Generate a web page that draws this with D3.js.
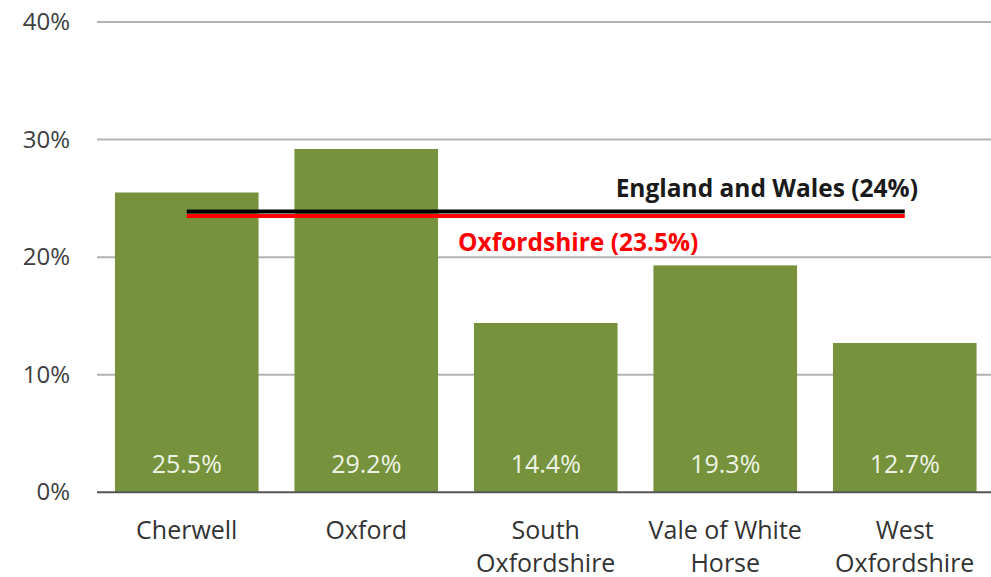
<!DOCTYPE html>
<html>
<head>
<meta charset="utf-8">
<script src="https://cdn.jsdelivr.net/npm/d3@7"></script>
<style>
  html, body { margin: 0; padding: 0; background: #fff; }
  svg { display: block; }
  text { font-family: "Open Sans", "Noto Sans", sans-serif; }
</style>
</head>
<body>
<svg id="chart" width="991" height="577"></svg>
<script>
// Share of population by district, with county and national reference lines
const districts = [["Cherwell"], ["Oxford"], ["South", "Oxfordshire"], ["Vale of White", "Horse"], ["West", "Oxfordshire"]];
const districtKeys = ["Cherwell", "Oxford", "South Oxfordshire", "Vale of White Horse", "West Oxfordshire"];
const shares = [25.5, 29.2, 14.4, 19.3, 12.7];
const yTicks = [0, 10, 20, 30, 40];
const englandWales = 24;
const oxfordshire = 23.5;

const svg = d3.select("#chart");

const x = d3.scaleBand()
  .domain(districtKeys)
  .range([97, 994.5])
  .paddingInner(0.2)
  .paddingOuter(0.1);

const y = d3.scaleLinear().domain([0, 40]).range([492.3, 22]);

// Gridlines
svg.append("g")
  .selectAll("line")
  .data(yTicks.filter(d => d > 0))
  .join("line")
  .attr("x1", 97).attr("x2", 991)
  .attr("y1", d => y(d)).attr("y2", d => y(d))
  .attr("stroke", "#b3b3b3").attr("stroke-width", 2);

// Y axis labels
const yAxis = d3.axisLeft(y).tickValues(yTicks).tickFormat(d => d + "%").tickSize(0).tickPadding(0);
const gy = svg.append("g").attr("transform", "translate(70,0)").call(yAxis);
gy.select(".domain").remove();
gy.selectAll("text")
  .attr("font-size", 24)
  .attr("fill", "#404040")
  .attr("font-family", "'Open Sans', sans-serif");

// Bars
svg.append("g")
  .selectAll("rect")
  .data(shares)
  .join("rect")
  .attr("x", (d, i) => x(districtKeys[i]))
  .attr("width", x.bandwidth())
  .attr("y", d => y(d))
  .attr("height", d => y(0) - y(d))
  .attr("fill", "#76923c");

// Value labels inside bars
svg.append("g")
  .selectAll("text")
  .data(shares)
  .join("text")
  .attr("x", (d, i) => x(districtKeys[i]) + x.bandwidth() / 2)
  .attr("y", y(0) - 19)
  .attr("text-anchor", "middle")
  .attr("font-size", 25)
  .attr("fill", "#eef2e4")
  .text(d => d.toFixed(1) + "%");

// Baseline
svg.append("line")
  .attr("x1", 97).attr("x2", 991)
  .attr("y1", y(0)).attr("y2", y(0))
  .attr("stroke", "#555").attr("stroke-width", 2);

// Category labels
const xl = svg.append("g")
  .selectAll("text")
  .data(districts)
  .join("text")
  .attr("x", (d, i) => x(districtKeys[i]) + x.bandwidth() / 2)
  .attr("y", 539)
  .attr("text-anchor", "middle")
  .attr("font-size", 25)
  .attr("fill", "#333");
xl.selectAll("tspan")
  .data(d => d)
  .join("tspan")
  .attr("x", function () { return d3.select(this.parentNode).attr("x"); })
  .attr("dy", (d, i) => i === 0 ? 0 : 33)
  .text(d => d);

// Reference lines spanning first to last bar centre
const xStart = x(districtKeys[0]) + x.bandwidth() / 2;
const xEnd = x(districtKeys[districtKeys.length - 1]) + x.bandwidth() / 2;

svg.append("line")
  .attr("x1", xStart).attr("x2", xEnd)
  .attr("y1", y(englandWales) + 1.5).attr("y2", y(englandWales) + 1.5)
  .attr("stroke", "#000").attr("stroke-width", 4);
svg.append("line")
  .attr("x1", xStart).attr("x2", xEnd)
  .attr("y1", y(oxfordshire)).attr("y2", y(oxfordshire))
  .attr("stroke", "#ff0000").attr("stroke-width", 4);

svg.append("text")
  .attr("x", 918).attr("y", 197)
  .attr("text-anchor", "end")
  .attr("font-size", 24.5)
  .attr("font-weight", "bold")
  .attr("fill", "#1a1a1a")
  .text(`England and Wales (${englandWales}%)`);

svg.append("text")
  .attr("x", 458).attr("y", 251)
  .attr("text-anchor", "start")
  .attr("font-size", 24.5)
  .attr("font-weight", "bold")
  .attr("fill", "#ff0000")
  .text(`Oxfordshire (${oxfordshire}%)`);
</script>
</body>
</html>
